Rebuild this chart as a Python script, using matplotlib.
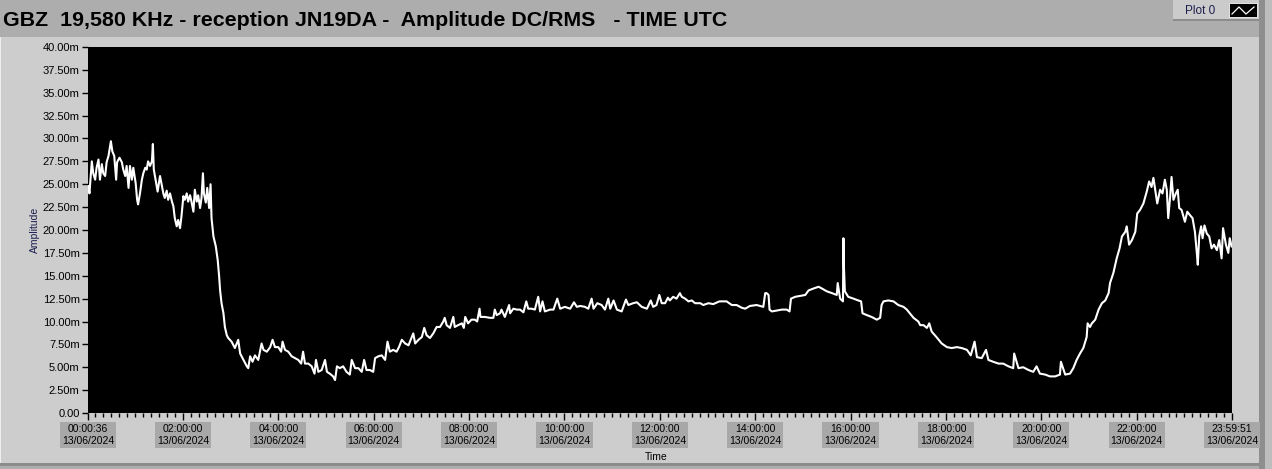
import matplotlib
matplotlib.use("Agg")
import matplotlib.pyplot as plt
from matplotlib.patches import Rectangle
from matplotlib.lines import Line2D
from matplotlib.ticker import FixedLocator, MultipleLocator, FuncFormatter

# time of day in hours (UTC), amplitude in mV
hours = [
    0.02, 0.04, 0.09, 0.12, 0.16, 0.19, 0.23, 0.26, 0.30, 0.33, 0.37, 0.40, 0.44, 0.49, 0.52, 0.56,
    0.60, 0.62, 0.67, 0.72, 0.75, 0.79, 0.82, 0.86, 0.89, 0.93, 0.96, 1.01, 1.04, 1.06, 1.10, 1.14,
    1.17, 1.21, 1.24, 1.27, 1.31, 1.35, 1.37, 1.39, 1.44, 1.47, 1.52, 1.56, 1.59, 1.62, 1.66, 1.69,
    1.73, 1.77, 1.80, 1.83, 1.87, 1.90, 1.94, 1.97, 2.01, 2.04, 2.08, 2.11, 2.15, 2.18, 2.22, 2.25,
    2.29, 2.32, 2.36, 2.39, 2.42, 2.44, 2.48, 2.51, 2.55, 2.58, 2.60, 2.64, 2.69, 2.73, 2.76, 2.78,
    2.81, 2.85, 2.88, 2.92, 2.95, 3.02, 3.09, 3.16, 3.20, 3.27, 3.34, 3.37, 3.41, 3.46, 3.51, 3.58,
    3.65, 3.69, 3.76, 3.83, 3.88, 3.93, 4.00, 4.06, 4.09, 4.14, 4.21, 4.28, 4.35, 4.42, 4.48, 4.52,
    4.56, 4.63, 4.70, 4.76, 4.79, 4.84, 4.91, 4.98, 5.02, 5.08, 5.15, 5.19, 5.23, 5.29, 5.36, 5.43,
    5.50, 5.54, 5.61, 5.68, 5.75, 5.80, 5.85, 5.92, 5.99, 6.03, 6.10, 6.17, 6.24, 6.29, 6.34, 6.41,
    6.48, 6.53, 6.59, 6.66, 6.73, 6.83, 6.87, 6.94, 7.01, 7.06, 7.11, 7.18, 7.25, 7.32, 7.39, 7.46,
    7.49, 7.53, 7.60, 7.67, 7.70, 7.77, 7.85, 7.89, 7.92, 7.98, 8.05, 8.12, 8.17, 8.22, 8.24, 8.33,
    8.44, 8.51, 8.54, 8.58, 8.65, 8.68, 8.75, 8.84, 8.86, 8.93, 9.00, 9.07, 9.14, 9.20, 9.24, 9.31,
    9.38, 9.45, 9.49, 9.54, 9.59, 9.70, 9.77, 9.85, 9.91, 10.01, 10.12, 10.20, 10.26, 10.33, 10.43, 10.50,
    10.57, 10.61, 10.69, 10.78, 10.85, 10.92, 10.96, 11.03, 11.10, 11.20, 11.29, 11.34, 11.44, 11.52, 11.62, 11.73,
    11.81, 11.86, 11.93, 11.99, 12.04, 12.11, 12.17, 12.21, 12.28, 12.35, 12.42, 12.46, 12.53, 12.60, 12.67, 12.74,
    12.85, 12.91, 13.02, 13.12, 13.25, 13.40, 13.51, 13.61, 13.72, 13.79, 13.89, 14.03, 14.17, 14.21, 14.24, 14.28,
    14.30, 14.35, 14.45, 14.56, 14.66, 14.72, 14.75, 14.84, 14.94, 15.05, 15.12, 15.22, 15.33, 15.40, 15.50, 15.61,
    15.71, 15.73, 15.78, 15.84, 15.85, 15.86, 15.88, 15.95, 16.06, 16.16, 16.22, 16.25, 16.34, 16.44, 16.55, 16.62,
    16.65, 16.69, 16.79, 16.90, 17.00, 17.11, 17.18, 17.21, 17.32, 17.42, 17.46, 17.53, 17.60, 17.65, 17.70, 17.80,
    17.91, 18.02, 18.12, 18.23, 18.33, 18.44, 18.52, 18.60, 18.65, 18.75, 18.84, 18.89, 18.99, 19.10, 19.20, 19.31,
    19.41, 19.43, 19.52, 19.62, 19.73, 19.83, 19.90, 19.97, 20.08, 20.18, 20.29, 20.39, 20.41, 20.50, 20.60, 20.67,
    20.74, 20.81, 20.88, 20.95, 20.97, 21.02, 21.06, 21.13, 21.20, 21.27, 21.34, 21.41, 21.44, 21.51, 21.58, 21.64,
    21.69, 21.76, 21.79, 21.84, 21.90, 21.97, 22.01, 22.07, 22.14, 22.21, 22.26, 22.31, 22.35, 22.40, 22.43, 22.49,
    22.54, 22.59, 22.63, 22.66, 22.70, 22.73, 22.77, 22.82, 22.86, 22.89, 22.94, 23.01, 23.06, 23.12, 23.17, 23.22,
    23.26, 23.28, 23.31, 23.35, 23.38, 23.42, 23.47, 23.52, 23.57, 23.62, 23.68, 23.73, 23.78, 23.81, 23.87, 23.92,
    23.95, 23.99,
]
amplitude_mv = [
    24.8, 24.0, 27.5, 26.2, 25.5, 26.8, 27.7, 25.5, 27.2, 26.2, 25.9, 27.4, 28.1, 29.7, 28.6, 28.1,
    25.5, 27.4, 27.9, 27.4, 26.6, 25.9, 27.0, 24.6, 27.0, 25.5, 26.8, 25.1, 23.3, 22.8, 24.0, 25.5,
    26.2, 26.8, 26.6, 27.5, 27.0, 27.5, 29.4, 26.6, 25.1, 24.2, 25.9, 24.8, 24.0, 23.5, 24.3, 23.3,
    24.0, 23.1, 22.6, 21.3, 20.4, 21.1, 20.2, 21.5, 23.7, 23.3, 24.0, 23.1, 23.8, 23.1, 22.0, 24.4,
    23.1, 23.8, 22.4, 23.5, 26.2, 24.0, 23.0, 24.6, 22.4, 25.0, 21.3, 19.3, 18.2, 16.7, 14.9, 13.4,
    12.0, 10.9, 9.4, 8.5, 8.2, 7.8, 7.1, 8.0, 6.5, 5.8, 5.1, 4.9, 6.2, 5.6, 6.3, 5.8,
    7.6, 6.9, 6.7, 7.2, 8.0, 7.2, 7.2, 6.7, 7.8, 6.9, 6.7, 6.2, 6.0, 5.8, 5.4, 6.7,
    5.4, 5.4, 5.1, 4.3, 5.8, 4.5, 4.7, 5.8, 4.5, 4.3, 4.0, 3.6, 5.1, 4.9, 5.1, 4.5,
    4.2, 5.8, 4.9, 4.9, 4.5, 5.8, 4.7, 4.7, 4.5, 6.0, 6.2, 6.3, 5.8, 7.8, 6.7, 6.9,
    6.7, 7.2, 8.0, 7.6, 7.4, 8.7, 7.6, 8.0, 8.3, 9.3, 8.5, 8.2, 8.7, 9.4, 9.4, 10.0,
    10.4, 9.6, 9.3, 10.5, 9.4, 9.6, 9.8, 9.3, 10.5, 9.8, 10.2, 10.2, 10.0, 11.4, 10.5, 10.5,
    10.4, 10.4, 11.3, 10.7, 10.9, 11.3, 10.5, 11.8, 10.9, 11.4, 11.3, 11.3, 11.0, 12.2, 11.4, 11.4,
    11.3, 12.7, 11.1, 12.2, 11.1, 11.3, 11.3, 12.5, 11.4, 11.6, 11.4, 12.1, 11.6, 11.7, 11.6, 11.4,
    12.5, 11.4, 12.0, 11.8, 11.3, 12.5, 11.4, 12.3, 11.3, 11.1, 12.4, 11.8, 12.0, 12.1, 11.6, 11.4,
    12.3, 11.6, 11.8, 12.9, 12.0, 12.0, 12.6, 12.3, 12.7, 12.5, 13.1, 12.7, 12.5, 12.2, 12.3, 12.0,
    12.0, 11.8, 12.0, 11.9, 12.2, 12.2, 11.8, 11.8, 11.5, 11.4, 11.7, 11.8, 11.6, 13.1, 13.1, 12.9,
    11.3, 11.1, 11.2, 11.3, 11.3, 11.1, 12.5, 12.7, 12.8, 12.9, 13.4, 13.6, 13.8, 13.6, 13.3, 13.1,
    12.9, 14.2, 12.5, 12.2, 19.1, 16.0, 13.3, 12.7, 12.5, 12.3, 12.2, 10.9, 10.7, 10.5, 10.2, 10.4,
    11.8, 12.2, 12.3, 12.2, 11.8, 11.6, 11.3, 11.1, 10.4, 10.0, 9.6, 9.6, 9.3, 9.8, 8.9, 8.3,
    7.6, 7.2, 7.1, 7.2, 7.1, 6.9, 6.3, 7.8, 6.1, 6.0, 6.9, 5.8, 5.6, 5.4, 5.4, 5.1,
    4.9, 6.5, 4.9, 5.0, 4.7, 4.5, 5.1, 4.3, 4.2, 4.0, 4.0, 4.2, 5.6, 4.2, 4.3, 4.9,
    5.8, 6.5, 7.1, 8.3, 9.8, 9.4, 9.8, 10.2, 11.3, 12.0, 12.3, 13.1, 14.2, 15.3, 16.9, 18.0,
    19.3, 19.8, 20.4, 18.4, 18.9, 19.8, 21.8, 22.2, 22.9, 24.2, 25.3, 24.7, 25.7, 24.0, 22.9, 24.4,
    24.0, 25.5, 24.4, 21.3, 23.6, 25.8, 23.3, 24.0, 24.4, 22.4, 22.2, 20.9, 22.0, 21.6, 21.3, 19.8,
    17.5, 16.2, 19.3, 20.4, 19.1, 20.5, 19.6, 19.3, 18.0, 18.4, 17.8, 18.9, 16.9, 20.2, 18.4, 17.5,
    19.1, 18.2,
]

t_start = 0.01      # 00:00:36
t_end = 23.9975     # 23:59:51
tick_hours = [t_start, 2, 4, 6, 8, 10, 12, 14, 16, 18, 20, 22, t_end]
tick_times = ["00:00:36", "02:00:00", "04:00:00", "06:00:00", "08:00:00", "10:00:00", "12:00:00",
              "14:00:00", "16:00:00", "18:00:00", "20:00:00", "22:00:00", "23:59:51"]
tick_date = "13/06/2024"

title = "GBZ  19,580 KHz - reception JN19DA -  Amplitude DC/RMS   - TIME UTC"

W, H = 1272, 469
fig = plt.figure(figsize=(W / 100, H / 100), dpi=100)
fig.patch.set_facecolor("#adadad")
font = "Liberation Sans"
navy = "#1c1f4f"


def px(x, y):
    # pixel position (from top-left) -> figure fraction
    return x / W, 1 - y / H


def box(x0, y0, x1, y1, color, z=0):
    fx, fy = px(x0, y1)
    fig.add_artist(Rectangle((fx, fy), (x1 - x0) / W, (y1 - y0) / H, transform=fig.transFigure,
                             facecolor=color, edgecolor="none", zorder=z))


# panel behind the graph
box(0, 37, 1259, 463, "#cdcdcd")
box(0, 37, 1, 463, "#eeeeee")
box(0, 463, 1259, 466, "#8c8c8c")
box(1259, 0, 1265, 469, "#8e8e8e")
box(1265, 0, 1272, 469, "#bdbdbd")

# legend "Plot 0"
box(1173, 0, 1259, 20, "#cbcbcb")
box(1173, 19, 1259, 21, "#8c8c8c")
fig.text(1185 / W, px(0, 11)[1], "Plot 0", fontsize=8.5, family=font, color=navy, va="center")
box(1229, 3, 1258, 18, "#e0e0e0")
box(1230, 4, 1257, 17, "black")
zx = [1232, 1239, 1246, 1254]
zy = [14, 7, 14, 7]
fig.add_artist(Line2D([x / W for x in zx], [1 - y / H for y in zy], transform=fig.transFigure,
                      color="white", lw=0.9))

fig.text(3 / W, px(0, 20)[1], title, fontsize=15.4, fontweight="bold", family=font,
         color="black", va="center")

left, top = px(88, 47)
right, bottom = px(1232, 413)
ax = fig.add_axes([left, bottom, right - left, top - bottom])
ax.set_facecolor("black")
ax.plot(hours, amplitude_mv, color="white", lw=1.5)

ax.set_xlim(t_start, t_end)
ax.set_ylim(0, 40)
for s in ax.spines.values():
    s.set_visible(False)

ax.yaxis.set_major_locator(MultipleLocator(2.5))
ax.yaxis.set_major_formatter(FuncFormatter(lambda v, p: "0.00" if v == 0 else f"{v:.2f}m"))
ax.xaxis.set_major_locator(FixedLocator(tick_hours))
ax.xaxis.set_minor_locator(MultipleLocator(1 / 6))
ax.set_xticklabels([f"{t}\n{tick_date}" for t in tick_times])

ax.tick_params(axis="y", direction="out", length=4, width=1, color="black", pad=2,
               labelsize=8, labelcolor="black")
ax.tick_params(axis="x", which="major", direction="out", length=5, width=1, color="black",
               pad=3, labelsize=7.5, labelcolor="black")
ax.tick_params(axis="x", which="minor", direction="out", length=3, width=1, color="black")
for lab in ax.get_yticklabels() + ax.get_xticklabels():
    lab.set_family(font)
for lab in ax.get_xticklabels():
    lab.set_linespacing(1.25)
    lab.set_bbox(dict(facecolor="#a8a8a8", edgecolor="none", pad=1.5))

ax.set_ylabel("Amplitude", fontsize=7.5, family=font, color=navy)
ax.yaxis.set_label_coords(-48 / 1144, 0.5)
ax.set_xlabel("Time", fontsize=7.5, family=font, color="black")
ax.xaxis.set_label_coords(0.497, -39 / 366)

fig.savefig("out.png", dpi=100, facecolor=fig.get_facecolor())
